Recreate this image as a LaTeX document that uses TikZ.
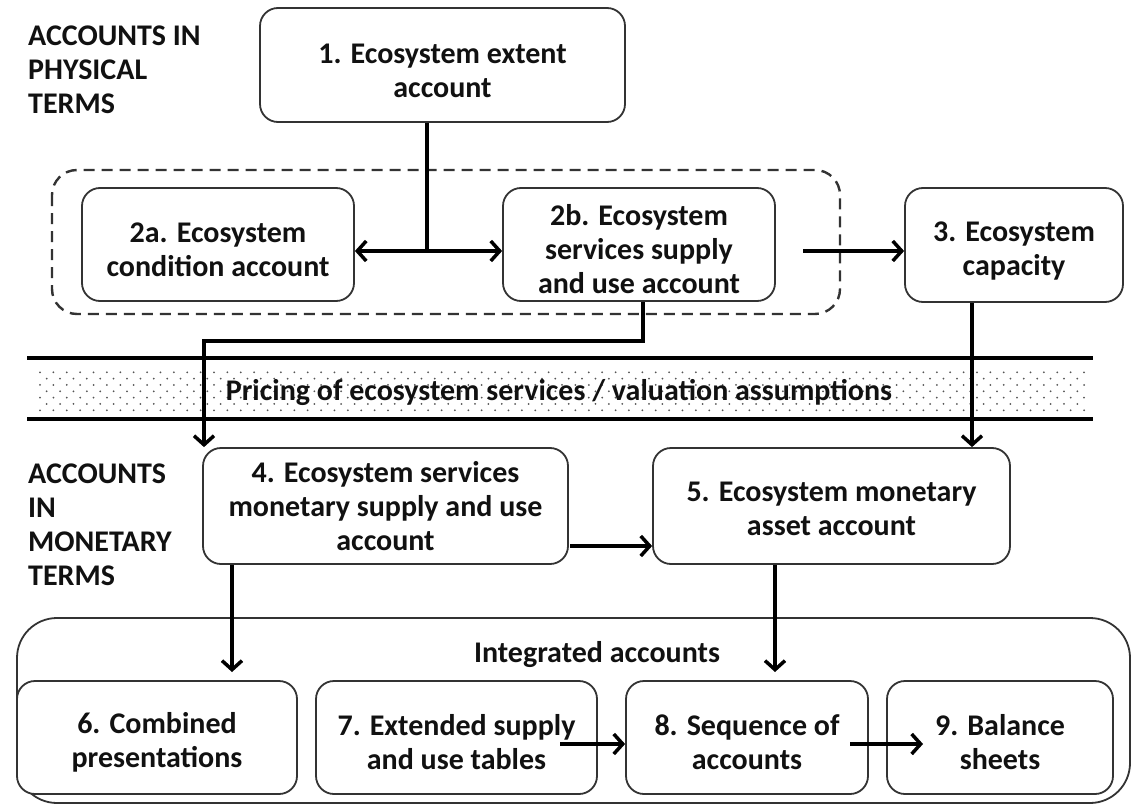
\documentclass[tikz,border=0pt]{standalone}
\usepackage{fontspec}
\setmainfont{Carlito}
\usetikzlibrary{arrows.meta,calc}
\definecolor{ink}{HTML}{111111}
\definecolor{edge}{HTML}{333333}
\definecolor{dotgrey}{HTML}{555555}
% invisible strut that lowers the text block inside a box
\newcommand{\boxlift}{\rule{0pt}{31pt}}
\begin{document}
\begin{tikzpicture}[x=1pt,y=-1pt,
  txt/.style={font=\fontsize{30}{34}\selectfont\bfseries, text=ink, align=center},
  acct/.style={txt, draw=edge, line width=1.8pt, rounded corners=18pt, inner sep=0pt, fill=white},
  flow/.style={draw=black, line width=3.5pt, line join=miter, -{Straight Barb[length=9pt,width=20pt]}},
  rail/.style={draw=black, line width=4pt},
  side/.style={txt, align=left, anchor=north west, inner sep=0pt}]
\useasboundingbox (0,0) rectangle (1134,805);

% section headings
\node[side] (hphys) at (28,26) {ACCOUNTS IN\\PHYSICAL\\TERMS};
\node[side] (hmon) at (28,464) {ACCOUNTS\\IN\\MONETARY\\TERMS};

% pricing band: rails and dotted fill
\foreach \r in {0,...,6}{
  \pgfmathtruncatemacro{\odd}{mod(\r,2)}
  \pgfmathtruncatemacro{\last}{78-\odd}
  \foreach \c in {0,...,\last}{
    \fill[dotgrey] ({40+13.385*\c+6.69*\odd},{372.3+6.33*\r}) circle (1pt);
  }
}
\draw[rail] (27,358) -- (1093,358);
\draw[rail] (27,419) -- (1093,419);
\node[txt] (price) at (559,392) {Pricing of ecosystem services / valuation assumptions};

% physical accounts
\node[acct, minimum width=365pt, minimum height=114pt] (b1) at (442.5,65) {\boxlift 1. Ecosystem extent\\account};
\draw[edge, line width=2.4pt, dash pattern=on 11pt off 7pt, rounded corners=25pt] (52,170) rectangle (840,314);
\node[acct, minimum width=272pt, minimum height=113pt] (b2a) at (218,244.5) {\boxlift 2a. Ecosystem\\condition account};
\node[acct, minimum width=272pt, minimum height=113pt] (b2b) at (639,244.5) {\boxlift 2b. Ecosystem\\services supply\\and use account};
\node[acct, minimum width=218pt, minimum height=114pt] (b3) at (1014,245) {\boxlift 3. Ecosystem\\capacity};

% monetary accounts
\node[acct, minimum width=365pt, minimum height=116pt] (b4) at (385.5,506) {4. Ecosystem services\\monetary supply and use\\account};
\node[acct, minimum width=357pt, minimum height=116pt] (b5) at (831.5,506) {\rule{0pt}{26pt}5. Ecosystem monetary\\asset account};

% integrated accounts
\node[draw=edge, line width=1.8pt, rounded corners=40pt, minimum width=1113pt, minimum height=185pt, inner sep=0pt] (frame) at (573.5,710.5) {};
\node[txt] (intg) at (597,655) {Integrated accounts};
\node[acct, minimum width=280pt, minimum height=113pt] (b6) at (157,737.5) {\boxlift 6. Combined\\presentations};
\node[acct, minimum width=281pt, minimum height=113pt] (b7) at (456.5,737.5) {\boxlift 7. Extended supply\\and use tables};
\node[acct, minimum width=242pt, minimum height=113pt] (b8) at (747,737.5) {\boxlift 8. Sequence of\\accounts};
\node[acct, minimum width=226pt, minimum height=113pt] (b9) at (1000,737.5) {\boxlift 9. Balance\\sheets};

% connectors
\coordinate (j) at (427,251);
\draw[rail, line width=3.5pt] (b1.south -| j) -- (j);
\draw[flow, {Straight Barb[length=9pt,width=20pt]}-{Straight Barb[length=9pt,width=20pt]}] (j -| b2a.east) -- (j -| b2b.west);
\coordinate (s3) at (803,251);
\draw[flow] (s3) -- (s3 -| b3.west);
\coordinate (k1) at (643,341);
\coordinate (k2) at (204,341);
\draw[flow] (k1 |- b2b.south) -- (k1) -- (k2) -- (k2 |- b4.north);
\coordinate (k3) at (972,300);
\draw[flow] (k3 |- b3.south) -- (k3 |- b5.north);
\coordinate (k4) at (570,546);
\draw[flow] (k4) -- (k4 -| b5.west);
\coordinate (k5) at (232,672);
\draw[flow] (k5 |- b4.south) -- (k5);
\coordinate (k6) at (775,672);
\draw[flow] (k6 |- b5.south) -- (k6);
\coordinate (k7) at (560,744);
\draw[flow] (k7) -- (k7 -| b8.west);
\coordinate (k8) at (850,744);
\coordinate (k9) at (923,744);
\draw[flow] (k8) -- (k9);
\end{tikzpicture}
\end{document}
